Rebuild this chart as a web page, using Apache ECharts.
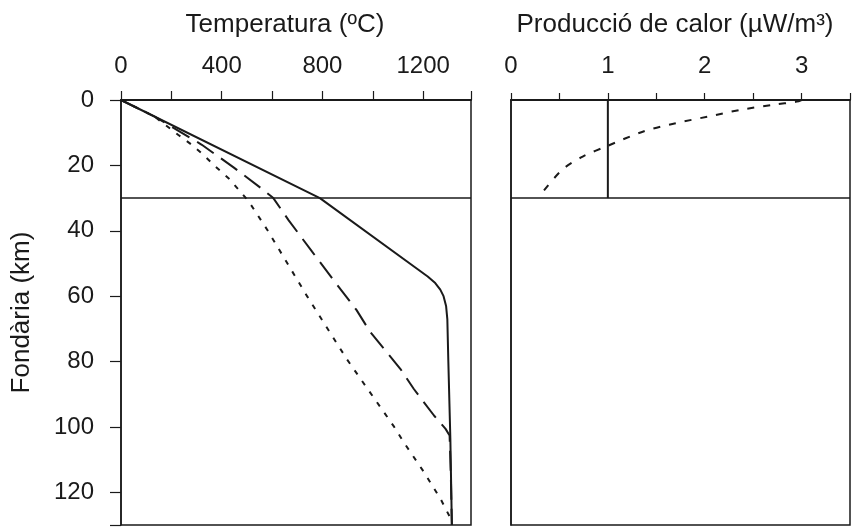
<!DOCTYPE html>
<html>
<head>
<meta charset="utf-8">
<script src="https://cdn.jsdelivr.net/npm/echarts@6/dist/echarts.min.js"></script>
<style>
  html, body { margin: 0; padding: 0; background: #fff; }
  #chart { width: 853px; height: 527px; }
</style>
</head>
<body>
<div id="chart"></div>
<script>
// Geotermes (temperatura en ºC, fondària en km)
const solidDepth = [0, 30, 54, 56, 58, 60, 63, 67, 80, 103.7, 130]
const solidTemp = [0, 790, 1218, 1248, 1268, 1281, 1291, 1296, 1300, 1308, 1314]

const dashDepth = [0, 5, 13.7, 20.6, 27.2, 30, 36.8, 46.4, 55.9, 64.2, 71, 82.3, 88.4, 96.5, 100.6, 102.6, 115, 130]
const dashTemp = [0, 132, 321, 447, 560, 605, 666, 759, 852, 935, 990, 1110, 1163, 1243, 1289, 1305, 1310, 1314]

const dotDepth = [0, 5, 10.7, 13.7, 16.8, 20.3, 23.9, 27.4, 31, 39.6, 60, 79.4, 100, 104.7, 113.8, 122, 128]
const dotTemp = [0, 132, 228, 281, 328, 374, 427, 467, 507, 580, 739, 898, 1085, 1123, 1203, 1269, 1309]

// Producció de calor (µW/m³)
const heatDepth = [0, 0.5, 1.5, 3, 5.1, 7.1, 9.7, 14, 17.3, 21.3, 28.4]
const heatValue = [3.0, 2.95, 2.70, 2.37, 2.03, 1.70, 1.36, 1.0, 0.74, 0.53, 0.32]
const crustHeatDepth = [0, 30]
const crustHeatValue = [1, 1]

const mohoDepth = 30

// Etiquetes dels eixos
const tempLabels = [0, 400, 800, 1200]
const heatLabels = [0, 1, 2, 3]
const depthLabels = [0, 20, 40, 60, 80, 100, 120]

const font = 'Liberation Sans, Arial, Helvetica, sans-serif'
const ink = '#1a1a1a'

const pairs = (xs, ys) => xs.map((x, i) => [x, ys[i]])

const chart = echarts.init(document.getElementById('chart'))

const baseLine = { color: ink, width: 2 }

const option = {
  backgroundColor: '#fff',
  animation: false,
  graphic: [
    {
      type: 'text', x: 285, y: 25,
      style: { text: 'Temperatura (ºC)', font: '26px ' + font, fill: ink, align: 'center', verticalAlign: 'middle' }
    },
    {
      type: 'text', x: 675, y: 25,
      style: { text: 'Producció de calor (µW/m³)', font: '26px ' + font, fill: ink, align: 'center', verticalAlign: 'middle' }
    }
  ],
  grid: [
    { left: 121, top: 100, width: 350, height: 425, show: true, borderColor: ink, borderWidth: 1.5, backgroundColor: 'transparent' },
    { left: 511, top: 100, width: 348, height: 425, show: true, borderColor: ink, borderWidth: 1.5, backgroundColor: 'transparent' }
  ],
  xAxis: [
    {
      type: 'value', gridIndex: 0, position: 'top',
      min: 0, max: 1390, interval: 200,
      axisLine: { show: true, lineStyle: baseLine },
      axisTick: { show: true, length: 9, inside: false, lineStyle: { color: ink, width: 1.2 } },
      axisLabel: {
        margin: 22, color: ink, fontSize: 24, fontFamily: font,
        formatter: v => tempLabels.includes(v) ? String(v) : ''
      },
      splitLine: { show: false }
    },
    {
      type: 'value', gridIndex: 1, position: 'top',
      min: 0, max: 3.5, interval: 0.5,
      axisLine: { show: true, lineStyle: baseLine },
      axisTick: { show: true, length: 7, lineStyle: { color: ink, width: 1.2 } },
      axisLabel: {
        margin: 22, color: ink, fontSize: 24, fontFamily: font,
        formatter: v => heatLabels.includes(v) ? String(v) : ''
      },
      splitLine: { show: false }
    }
  ],
  yAxis: [
    {
      type: 'value', gridIndex: 0, inverse: true,
      min: 0, max: 130, interval: 20,
      name: 'Fondària (km)', nameLocation: 'middle', nameGap: 86,
      nameTextStyle: { color: ink, fontSize: 26, fontFamily: font },
      axisLine: { show: true, lineStyle: { color: ink, width: 1.5 } },
      axisTick: { show: true, length: 11, lineStyle: { color: ink, width: 1.2 } },
      axisLabel: {
        margin: 27, color: ink, fontSize: 24, fontFamily: font,
        formatter: v => depthLabels.includes(v) ? String(v) : ''
      },
      splitLine: { show: false }
    },
    {
      type: 'value', gridIndex: 1, inverse: true,
      min: 0, max: 130,
      axisLine: { show: true, lineStyle: { color: ink, width: 1.5 } },
      axisTick: { show: false },
      axisLabel: { show: false },
      splitLine: { show: false }
    }
  ],
  series: [
    {
      name: 'Geoterma 1', type: 'line', xAxisIndex: 0, yAxisIndex: 0,
      data: pairs(solidTemp, solidDepth),
      symbol: 'none', lineStyle: { color: ink, width: 2 },
      markLine: {
        silent: true, symbol: 'none', label: { show: false },
        lineStyle: { color: ink, width: 1.5, type: 'solid' },
        data: [{ yAxis: mohoDepth }]
      }
    },
    {
      name: 'Geoterma 2', type: 'line', xAxisIndex: 0, yAxisIndex: 0,
      data: pairs(dashTemp, dashDepth),
      symbol: 'none', lineStyle: { color: ink, width: 2, type: [20, 9] }
    },
    {
      name: 'Geoterma 3', type: 'line', xAxisIndex: 0, yAxisIndex: 0,
      data: pairs(dotTemp, dotDepth),
      symbol: 'none', lineStyle: { color: ink, width: 2, type: [5, 8] }
    },
    {
      name: 'Producció exponencial', type: 'line', xAxisIndex: 1, yAxisIndex: 1,
      data: pairs(heatValue, heatDepth),
      smooth: 0.3,
      symbol: 'none', lineStyle: { color: ink, width: 2, type: [7, 9] }
    },
    {
      name: 'Producció constant', type: 'line', xAxisIndex: 1, yAxisIndex: 1,
      data: pairs(crustHeatValue, crustHeatDepth),
      symbol: 'none', lineStyle: { color: ink, width: 2 },
      markLine: {
        silent: true, symbol: 'none', label: { show: false },
        lineStyle: { color: ink, width: 1.5, type: 'solid' },
        data: [{ yAxis: mohoDepth }]
      }
    }
  ]
}

chart.setOption(option)
</script>
</body>
</html>
